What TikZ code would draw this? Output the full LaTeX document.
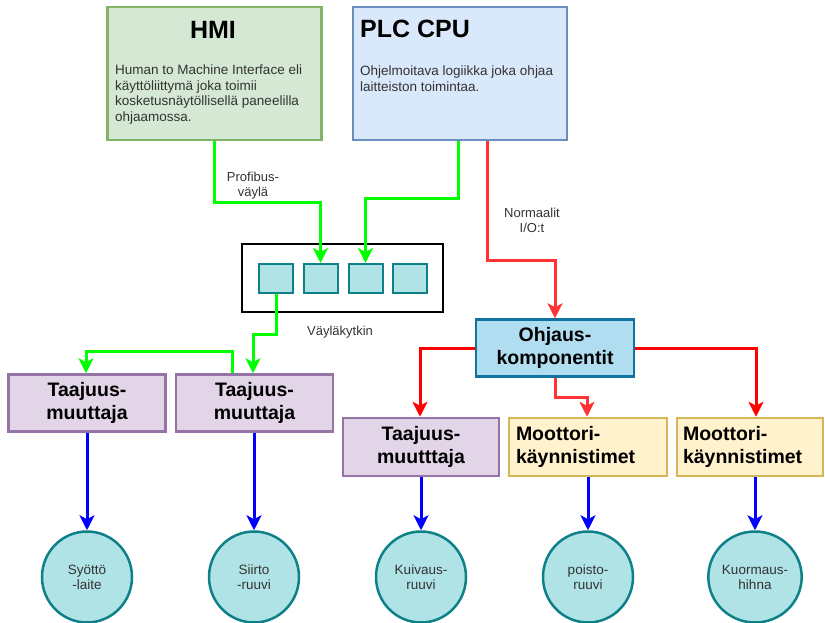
\documentclass[tikz,border=0pt]{standalone}
\usepackage{fontspec}
\setmainfont{Liberation Sans}
\usetikzlibrary{arrows.meta,shapes.geometric}
\definecolor{hmifill}{HTML}{D5E8D4}\definecolor{hmiline}{HTML}{82B366}
\definecolor{plcfill}{HTML}{DAE8FC}\definecolor{plcline}{HTML}{6C8EBF}
\definecolor{tfill}{HTML}{E1D5E7}\definecolor{tline}{HTML}{9673A6}
\definecolor{ofill}{HTML}{B1DDF0}\definecolor{oline}{HTML}{10739E}
\definecolor{mfill}{HTML}{FFF2CC}\definecolor{mline}{HTML}{D6B656}
\definecolor{cfill}{HTML}{B0E3E6}\definecolor{cline}{HTML}{0E8088}
\definecolor{txtgrey}{HTML}{333333}
\definecolor{gline}{HTML}{00FF00}\definecolor{rline}{HTML}{FF0000}
\definecolor{rline2}{HTML}{FF3333}\definecolor{bline}{HTML}{0000FF}
\begin{document}
\begin{tikzpicture}[x=1pt,y=-1pt,
  bigbox/.style={draw, line width=2.5pt, inner sep=0pt, minimum width=214pt, minimum height=133pt},
  titlefont/.style={font=\bfseries\fontsize{25}{29}\selectfont, inner sep=0pt},
  bodyfont/.style={font=\fontsize{13.5}{15.6}\selectfont, text=txtgrey, inner sep=0pt, align=left},
  lblfont/.style={font=\fontsize{13}{15}\selectfont, text=txtgrey, inner sep=0pt, align=center},
  unitbox/.style={draw, line width=2.5pt, inner sep=0pt, minimum height=57pt, align=center,
    font=\bfseries\fontsize{19.5}{23}\selectfont},
  tbox/.style={unitbox, fill=tfill, draw=tline, minimum width=157pt},
  obox/.style={unitbox, fill=ofill, draw=oline, minimum width=158pt},
  mbox/.style={unitbox, fill=mfill, draw=mline, align=left},
  port/.style={draw=cline, fill=cfill, line width=2pt, minimum width=34pt, minimum height=29pt, inner sep=0pt},
  swbox/.style={draw=black, fill=white, line width=2pt, minimum width=201pt, minimum height=68pt, inner sep=0pt},
  circ/.style={ellipse, draw=cline, fill=cfill, line width=2.5pt, minimum width=90pt, minimum height=91pt,
    inner sep=0pt, align=center, font=\fontsize{13.5}{15}\selectfont, text=txtgrey},
  tip/.style={-{Stealth[length=15pt,width=15pt,inset=4pt]}},
  garrow/.style={tip, draw=gline, line width=3pt},
  rarrow/.style={tip, draw=rline, line width=3pt},
  rarrow2/.style={tip, draw=rline2, line width=3pt},
  barrow/.style={tip, draw=bline, line width=3pt}]
\useasboundingbox (0,0) rectangle (825,623);

% top boxes
\node[bigbox, fill=hmifill, draw=hmiline] (hmi) at (214.5,73.5) {};
\node[titlefont] (hmit) at (213,30) {HMI};
\node[bodyfont, anchor=west] (hmib) at (115,94.5) {Human to Machine Interface eli\\käyttöliittymä joka toimii\\kosketusnäytöllisellä paneelilla\\ohjaamossa.};
\node[bigbox, fill=plcfill, draw=plcline] (plc) at (460,73.5) {};
\node[titlefont, anchor=west] (plct) at (360,29) {PLC CPU};
\node[bodyfont, anchor=west] (plcb) at (360,78.5) {Ohjelmoitava logiikka joka ohjaa\\laitteiston toimintaa.};

% switch
\node[swbox] (sw) at (342.5,278) {};
\node[port] (p1) at (276,278.5) {};
\node[port] (p2) at (320.5,278.5) {};
\node[port] (p3) at (365.5,278.5) {};
\node[port] (p4) at (409.5,278.5) {};

% units
\node[tbox] (t1) at (87,403) {Taajuus-\\muuttaja};
\node[tbox] (t2) at (254.5,403) {Taajuus-\\muuttaja};
\node[obox] (ohj) at (555,348) {Ohjaus-\\komponentit};
\node[tbox, minimum width=156pt, minimum height=58pt] (t3) at (421,447) {Taajuus-\\muutttaja};
\node[mbox, minimum height=58pt, inner xsep=7pt, text width=144pt] (m1) at (588,447) {Moottori-\\käynnistimet};
\node[mbox, minimum height=58pt, inner xsep=6pt, text width=134pt] (m2) at (750,447) {Moottori-\\käynnistimet};

% end devices
\node[circ] (c1) at (87,577) {Syöttö\\-laite};
\node[circ] (c2) at (254,577) {Siirto\\-ruuvi};
\node[circ] (c3) at (421,577) {Kuivaus-\\ruuvi};
\node[circ] (c4) at (588,577) {poisto-\\ruuvi};
\node[circ] (c5) at (755,577) {Kuormaus-\\hihna};

% labels
\node[lblfont] (lprof) at (253,186) {Profibus-\\väylä};
\node[lblfont] (lnorm) at (532,220) {Normaalit\\I/O:t};
\node[lblfont] (lsw) at (340,332) {Väyläkytkin};

% green connectors
\draw[garrow] (hmi.south) -- ++(0,61) -| (p2.north);
\draw[garrow] ([xshift=-2pt]plc.south) -- ++(0,57) -| (p3.north);
\draw[garrow] (p1.south) -- ++(0,40) -| ([xshift=-1.5pt]t2.north);
\draw[garrow] ([xshift=-22.5pt]t2.north) -- ++(0,-22) -| ([xshift=-1pt]t1.north);

% red connectors
\draw[rarrow2] ([xshift=27pt]plc.south) -- ++(0,119) -| (ohj.north);
\draw[rarrow] (ohj.west) -| ([xshift=-1pt]t3.north);
\draw[rarrow2] (ohj.south) -- ++(0,20) -| ([xshift=-1pt]m1.north);
\draw[rarrow] (ohj.east) -| ([xshift=6pt]m2.north);

% blue connectors
\draw[barrow] (t1.south) -- (c1.north);
\draw[barrow] ([xshift=-0.5pt]t2.south) -- (c2.north);
\draw[barrow] (t3.south) -- (c3.north);
\draw[barrow] (m1.south) -- (c4.north);
\draw[barrow] ([xshift=5pt]m2.south) -- (c5.north);
\end{tikzpicture}
\end{document}
